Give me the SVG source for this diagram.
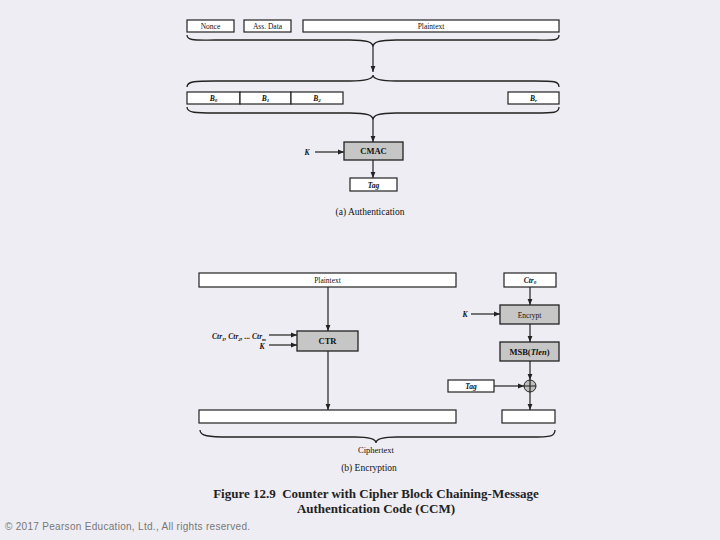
<svg xmlns="http://www.w3.org/2000/svg" width="720" height="540" viewBox="0 0 720 540">
<defs>
<marker id="ah" viewBox="0 0 10 10" refX="10" refY="5" markerWidth="6" markerHeight="6" orient="auto" markerUnits="userSpaceOnUse"><path d="M0,1 L10,5 L0,9 Z" fill="#222"/></marker>
<style>
.box{fill:#fff;stroke:#222;stroke-width:1.2}
.gbox{fill:#c6c6c6;stroke:#222;stroke-width:1.3}
.t{font-family:"Liberation Serif",serif;font-size:7.5px;fill:#111;text-anchor:middle}
.ti{font-family:"Liberation Serif",serif;font-size:7.5px;font-style:italic;font-weight:bold;fill:#111;text-anchor:middle}
.tb{font-family:"Liberation Serif",serif;font-size:8.5px;font-weight:bold;fill:#111;text-anchor:middle}
.sub{font-family:"Liberation Serif",serif;font-size:9.5px;fill:#111;text-anchor:middle}
.cap{font-family:"Liberation Serif",serif;font-size:13px;font-weight:bold;fill:#222;text-anchor:middle}
.ln{stroke:#222;stroke-width:1.2;fill:none}
.br{stroke:#222;stroke-width:1.3;fill:none}
</style>
</defs>
<rect width="720" height="540" fill="#eeedf3"/>

<g id="nonce"><rect class="box" x="187" y="20" width="47" height="12"/><text class="t" x="210.5" y="28.8">Nonce</text></g>
<g id="assdata"><rect class="box" x="244" y="20" width="47" height="12"/><text class="t" x="267.5" y="28.8">Ass. Data</text></g>
<g id="plaintext-a"><rect class="box" x="303" y="20" width="256" height="12"/><text class="t" x="431" y="28.8">Plaintext</text></g>

<g id="blocks">
<rect class="box" x="187" y="92" width="53" height="12"/><text class="ti" x="213.5" y="100.5">B<tspan font-size="5" dy="1.5">0</tspan></text>
<rect class="box" x="240" y="92" width="51" height="12"/><text class="ti" x="265.5" y="100.5">B<tspan font-size="5" dy="1.5">1</tspan></text>
<rect class="box" x="291" y="92" width="52" height="12"/><text class="ti" x="317" y="100.5">B<tspan font-size="5" dy="1.5">2</tspan></text>
<rect class="box" x="508" y="92" width="51" height="12"/><text class="ti" x="533.5" y="100.5">B<tspan font-size="5" dy="1.5">r</tspan></text>
</g>

<g id="cmac"><rect class="gbox" x="344" y="142" width="59" height="18"/><text class="tb" x="373.5" y="154">CMAC</text></g>
<g id="k-a"><text class="ti" x="307" y="155">K</text></g>
<g id="tag-a"><rect class="box" x="350" y="178" width="47" height="13"/><text class="ti" x="373.5" y="187.5">Tag</text></g>
<text class="sub" x="370" y="215">(a) Authentication</text>

<g id="plaintext-b"><rect class="box" x="199" y="273" width="257" height="14"/><text class="t" x="327.5" y="282.5">Plaintext</text></g>
<g id="ctr0"><rect class="box" x="504" y="273" width="52" height="14"/><text class="ti" x="530" y="282.5">Ctr<tspan font-size="5" dy="1.5">0</tspan></text></g>
<g id="ctr"><rect class="gbox" x="297" y="331" width="61" height="20"/><text class="tb" x="327.5" y="344">CTR</text></g>
<g id="ctrlabels">
<text class="ti" x="266" y="339" style="text-anchor:end">Ctr<tspan font-size="5" dy="1.5">1</tspan><tspan dy="-1.5">, Ctr</tspan><tspan font-size="5" dy="1.5">2</tspan><tspan dy="-1.5">, ... Ctr</tspan><tspan font-size="5" dy="1.5">m</tspan></text>
<text class="ti" x="262" y="349">K</text>
</g>
<g id="encrypt"><rect class="gbox" x="500" y="305" width="59" height="19"/><text class="t" x="529.5" y="317.5">Encrypt</text></g>
<g id="k-b"><text class="ti" x="465" y="317">K</text></g>
<g id="msb"><rect class="gbox" x="500" y="342" width="59" height="19"/><text class="tb" x="529.5" y="355">MSB(<tspan font-style="italic">Tlen</tspan>)</text></g>
<g id="tag-b"><rect class="box" x="448" y="380" width="46" height="12"/><text class="ti" x="471" y="388.5">Tag</text></g>
<g id="xor"><circle cx="530" cy="386" r="6" fill="#bdbdbd" stroke="#222" stroke-width="1"/><path class="ln" d="M524,386 H536 M530,380 V392" stroke-width="0.9"/></g>
<g id="cipher-left"><rect class="box" x="199" y="410" width="257" height="13"/></g>
<g id="cipher-right"><rect class="box" x="502" y="410" width="53" height="13"/></g>
<text class="t" x="376" y="452.5" style="font-size:8.5px">Ciphertext</text>
<text class="sub" x="369" y="471">(b) Encryption</text>

<g id="connectors">
<path class="br" d="M187,35 C187,41 196,40 215,40 L350,40 C367,40 373,42 373,47 C373,42 379,40 396,40 L535,40 C554,40 559,41 559,35"/>
<path class="ln" d="M373,47 V72" marker-end="url(#ah)"/>
<path class="br" d="M187,87 C187,81 196,81 215,81 L350,81 C367,81 373,79 373,75 C373,79 379,81 396,81 L535,81 C554,81 559,81 559,87"/>
<path class="br" d="M187,107 C187,113 196,113 215,113 L350,113 C367,113 373,115 373,120 C373,115 379,113 396,113 L535,113 C554,113 559,113 559,107"/>
<path class="ln" d="M373,120 V142" marker-end="url(#ah)"/>
<path class="ln" d="M315,152 H344" marker-end="url(#ah)"/>
<path class="ln" d="M373,160 V178" marker-end="url(#ah)"/>
<path class="ln" d="M328,287 V331" marker-end="url(#ah)"/>
<path class="ln" d="M269,335 H297" marker-end="url(#ah)"/>
<path class="ln" d="M269,345 H297" marker-end="url(#ah)"/>
<path class="ln" d="M328,351 V410" marker-end="url(#ah)"/>
<path class="ln" d="M530,287 V305" marker-end="url(#ah)"/>
<path class="ln" d="M471,314 H500" marker-end="url(#ah)"/>
<path class="ln" d="M530,324 V342" marker-end="url(#ah)"/>
<path class="ln" d="M530,361 V380" marker-end="url(#ah)"/>
<path class="ln" d="M494,386 H524" marker-end="url(#ah)"/>
<path class="ln" d="M530,392 V410" marker-end="url(#ah)"/>
<path class="br" d="M200,430 C200,436 208,437 230,437 L355,437 C370,437 376,439 376,443 C376,439 382,437 397,437 L530,437 C552,437 555,436 555,430"/>
</g>

<text class="cap" x="376" y="498">Figure 12.9&#160; Counter with Cipher Block Chaining-Message</text>
<text class="cap" x="376" y="513">Authentication Code (CCM)</text>
<text x="5" y="530" font-family="Liberation Sans, sans-serif" font-size="10" letter-spacing="0.3" fill="#777">© 2017 Pearson Education, Ltd., All rights reserved.</text>
</svg>
